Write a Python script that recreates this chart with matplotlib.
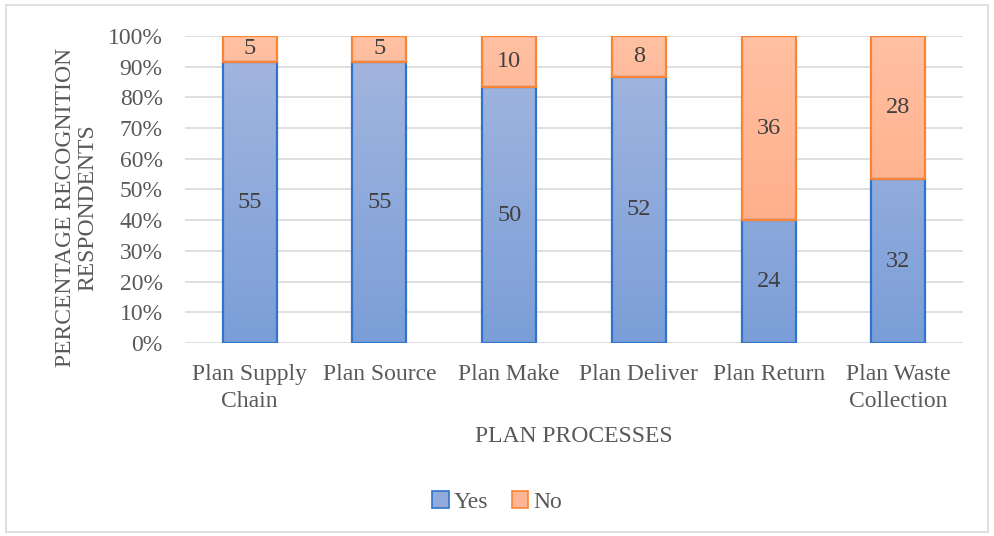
import numpy as np
import matplotlib
matplotlib.use("Agg")
import matplotlib.pyplot as plt
from matplotlib.colors import LinearSegmentedColormap
from matplotlib.patches import Rectangle, Patch

categories = ["Plan Supply\nChain", "Plan Source", "Plan Make", "Plan Deliver",
              "Plan Return", "Plan Waste\nCollection"]
yes_counts = [55, 55, 50, 52, 24, 32]
no_counts = [5, 5, 10, 8, 36, 28]
y_ticks = [0, 10, 20, 30, 40, 50, 60, 70, 80, 90, 100]

plt.rcParams['font.family'] = ['Liberation Serif', 'DejaVu Serif']
text_color = "#595959"
fs = 17

fig = plt.figure(figsize=(9.94, 5.36), dpi=100)
ax = fig.add_axes([0.186, 0.36, 0.783, 0.573])

yes = np.array(yes_counts, dtype=float)
no = np.array(no_counts, dtype=float)
total = yes + no
yes_pct = yes / total * 100
no_pct = no / total * 100
x = np.arange(len(categories))
width = 0.416

blue_cmap = LinearSegmentedColormap.from_list("blue", ["#7B9ED8", "#A5B7DF"])
orange_cmap = LinearSegmentedColormap.from_list("orange", ["#FFA47C", "#FFC0A2"])
grad = np.linspace(0, 1, 256).reshape(-1, 1)


def gradient_bar(xc, bottom, height, cmap, edge):
    rect = Rectangle((xc - width / 2, bottom), width, height,
                     facecolor="none", edgecolor=edge, linewidth=1.6, zorder=3)
    ax.add_patch(rect)
    im = ax.imshow(grad, cmap=cmap, aspect="auto", origin="lower",
                   extent=(xc - width / 2, xc + width / 2, 0, 100), zorder=2)
    im.set_clip_path(rect)


for i in range(len(categories)):
    gradient_bar(x[i], 0, yes_pct[i], blue_cmap, "#2F74C8")
    gradient_bar(x[i], yes_pct[i], no_pct[i], orange_cmap, "#FA8433")
    ax.text(x[i], yes_pct[i] / 2, f"{yes_counts[i]}", ha="center", va="center",
            fontsize=17.5, color="#404040", zorder=4)
    ax.text(x[i], yes_pct[i] + no_pct[i] / 2, f"{no_counts[i]}", ha="center",
            va="center", fontsize=17.5, color="#404040", zorder=4)

ax.set_xlim(-0.5, len(categories) - 0.5)
ax.set_ylim(0, 100)
ax.set_yticks(y_ticks)
ax.set_yticklabels([f"{t}%" for t in y_ticks])
ax.set_xticks(x)
ax.set_xticklabels(categories, linespacing=1.4)
ax.tick_params(axis="both", length=0, labelsize=fs, labelcolor=text_color)
ax.tick_params(axis="y", pad=16)
ax.tick_params(axis="x", pad=15)
for s in ax.spines.values():
    s.set_visible(False)
ax.yaxis.grid(True, color="#D9D9D9", linewidth=1.2, zorder=0)
ax.set_axisbelow(True)

ax.set_ylabel("PERCENTAGE RECOGNITION\nRESPONDENTS", fontsize=fs,
              color=text_color, linespacing=1.1)
ax.yaxis.set_label_coords(-0.111, 0.44)
ax.set_xlabel("PLAN PROCESSES", fontsize=fs, color=text_color, labelpad=10)

handles = [Patch(facecolor="#93ABDC", edgecolor="#2F74C8", linewidth=1.2, label="Yes"),
           Patch(facecolor="#FFB594", edgecolor="#FA8433", linewidth=1.2, label="No")]
fig.legend(handles=handles, loc="center", bbox_to_anchor=(0.5, 0.063), ncol=2,
           frameon=False, fontsize=fs, labelcolor=text_color, handlelength=0.7,
           handleheight=0.7, handletextpad=0.2, columnspacing=1.0)

fig.patches.append(Rectangle((0.006, 0.008), 0.988, 0.982, transform=fig.transFigure,
                             facecolor="none", edgecolor="#D9D9D9", linewidth=1.2))

fig.savefig("out.png", dpi=100)
